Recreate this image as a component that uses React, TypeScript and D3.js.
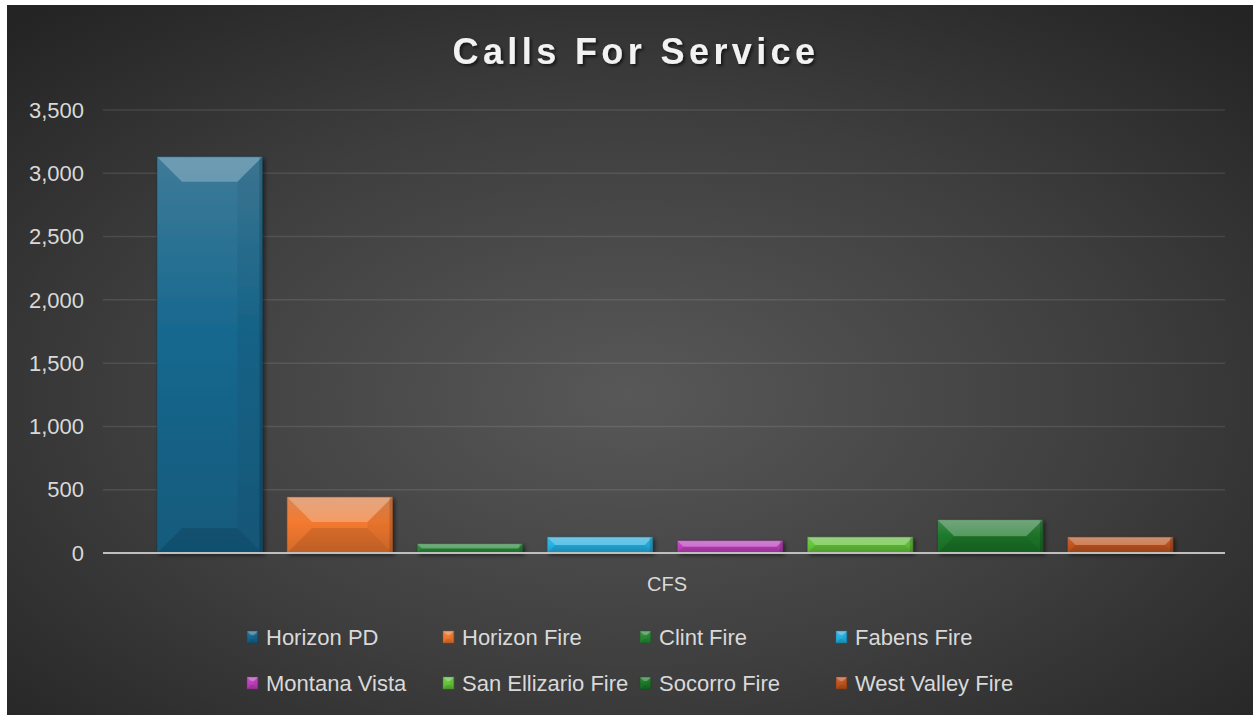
import React from 'react';
import * as d3 from 'd3';

const categories = ['CFS'];
const seriesNames = [
  'Horizon PD',
  'Horizon Fire',
  'Clint Fire',
  'Fabens Fire',
  'Montana Vista',
  'San Ellizario Fire',
  'Socorro Fire',
  'West Valley Fire',
];
const seriesValues = [3130, 442, 73, 126, 97, 126, 263, 126];
const seriesColors = [
  '#17688f',
  '#f47a30',
  '#2b8a38',
  '#26b3e6',
  '#c23fc0',
  '#66c83a',
  '#1e7a2b',
  '#c4561f',
];
const yTicks = [0, 500, 1000, 1500, 2000, 2500, 3000, 3500];
const title = 'Calls For Service';

const W = 1253;
const H = 715;
const FONT = "'Liberation Sans', Arial, sans-serif";

function BevelBar({ x, y, w, h, color, id, maxB = 25 }: any) {
  const c = d3.color(color)!;
  const b = Math.max(0, Math.min(maxB, h / 2, w / 2));
  const top = `M${x},${y}L${x + w},${y}L${x + w - b},${y + b}L${x + b},${y + b}Z`;
  const bottom = `M${x},${y + h}L${x + w},${y + h}L${x + w - b},${y + h - b}L${x + b},${y + h - b}Z`;
  const right = `M${x + w},${y}L${x + w - b},${y + b}L${x + w - b},${y + h - b}L${x + w},${y + h}Z`;
  const topCol = d3.interpolateRgb(c.formatHex(), '#9aa6ae')(0.3);
  return (
    <g>
      <defs>
        <linearGradient id={`g-${id}`} x1="0" y1="0" x2="0" y2="1">
          <stop offset="0" stopColor={topCol} />
          <stop offset="0.45" stopColor={c.formatHex()} />
          <stop offset="1" stopColor={c.darker(0.4).formatHex()} />
        </linearGradient>
      </defs>
      <rect x={x} y={y} width={w} height={h} fill={`url(#g-${id})`} />
      <path d={top} fill="#ffffff" fillOpacity={0.25} />
      <path d={right} fill="#000000" fillOpacity={0.05} />
      <path d={bottom} fill="#000000" fillOpacity={0.1} />
      <rect x={x + w - Math.min(3, w * 0.08)} y={y} width={Math.min(3, w * 0.08)} height={h} fill="#000" fillOpacity={0.15} />
      <rect x={x} y={y} width={w} height={h} fill="none" stroke={c.darker(1.2).formatHex()} strokeOpacity={0.6} strokeWidth={0.8} />
    </g>
  );
}

export default function App() {
  const plotLeft = 103;
  const plotRight = 1225;
  const plotTop = 110;
  const plotBottom = 553;

  const y = d3.scaleLinear().domain([0, 3500]).range([plotBottom, plotTop]);
  const x0 = d3.scaleBand<string>().domain(categories).range([plotLeft, plotRight]);
  const gx = x0('CFS')!;
  const x1 = d3
    .scaleBand<string>()
    .domain(seriesNames)
    .range([gx + 54, gx + x0.bandwidth() - 52])
    .paddingInner(0.19)
    .paddingOuter(0);

  const fmt = d3.format(',');
  const legendCols = [266, 462, 659, 855];
  const legendRows = [637, 683];

  return (
    <svg
      width={W}
      height={H}
      style={{ position: 'absolute', left: 0, top: 0, display: 'block' }}
      fontFamily={FONT}
    >
      <defs>
        <radialGradient id="bg" cx="0.5" cy="0.55" r="0.72" gradientUnits="objectBoundingBox">
          <stop offset="0" stopColor="#585858" />
          <stop offset="0.55" stopColor="#3e3e3e" />
          <stop offset="1" stopColor="#242424" />
        </radialGradient>
        <filter id="barShadow" x="-20%" y="-20%" width="140%" height="140%">
          <feDropShadow dx="2" dy="2" stdDeviation="2" floodColor="#000" floodOpacity="0.55" />
        </filter>
        <filter id="titleShadow" x="-10%" y="-30%" width="120%" height="160%">
          <feDropShadow dx="2" dy="2" stdDeviation="1.5" floodColor="#000" floodOpacity="0.6" />
        </filter>
      </defs>
      <rect x={0} y={0} width={W} height={H} fill="#ffffff" />
      <rect x={7} y={5} width={W - 7} height={H - 5} fill="url(#bg)" />

      <text
        x={636}
        y={64}
        textAnchor="middle"
        fontSize={36}
        fontWeight="bold"
        letterSpacing={4.4}
        fill="#f2f2f2"
        filter="url(#titleShadow)"
      >
        {title}
      </text>

      {yTicks.map((t) => (
        <g key={t}>
          {t !== 0 && (
            <line
              x1={plotLeft}
              x2={plotRight}
              y1={y(t)}
              y2={y(t)}
              stroke="#ffffff"
              strokeOpacity={0.1}
              strokeWidth={1.5}
            />
          )}
          <text x={84} y={y(t)} dy="0.35em" textAnchor="end" fontSize={22} fill="#d9d9d9">
            {fmt(t)}
          </text>
        </g>
      ))}

      <g filter="url(#barShadow)">
        {seriesNames.map((s, i) => (
          <BevelBar
            key={s}
            id={`bar${i}`}
            x={x1(s)!}
            y={y(seriesValues[i])}
            w={x1.bandwidth()}
            h={y(0) - y(seriesValues[i])}
            color={seriesColors[i]}
          />
        ))}
      </g>

      <line x1={plotLeft} x2={plotRight} y1={y(0)} y2={y(0)} stroke="#bfbfbf" strokeWidth={2} />

      <text x={gx + x0.bandwidth() / 2 + 3} y={584} dy="0.35em" textAnchor="middle" fontSize={20} fill="#d9d9d9">
        {categories[0]}
      </text>

      {seriesNames.map((s, i) => {
        const col = i % 4;
        const row = Math.floor(i / 4);
        const tx = legendCols[col];
        const ty = legendRows[row];
        return (
          <g key={s}>
            <BevelBar id={`leg${i}`} x={tx - 19} y={ty - 6} w={11} h={12} color={seriesColors[i]} maxB={4} />
            <text x={tx} y={ty} dy="0.35em" fontSize={22} fill="#d9d9d9">
              {s}
            </text>
          </g>
        );
      })}
    </svg>
  );
}
